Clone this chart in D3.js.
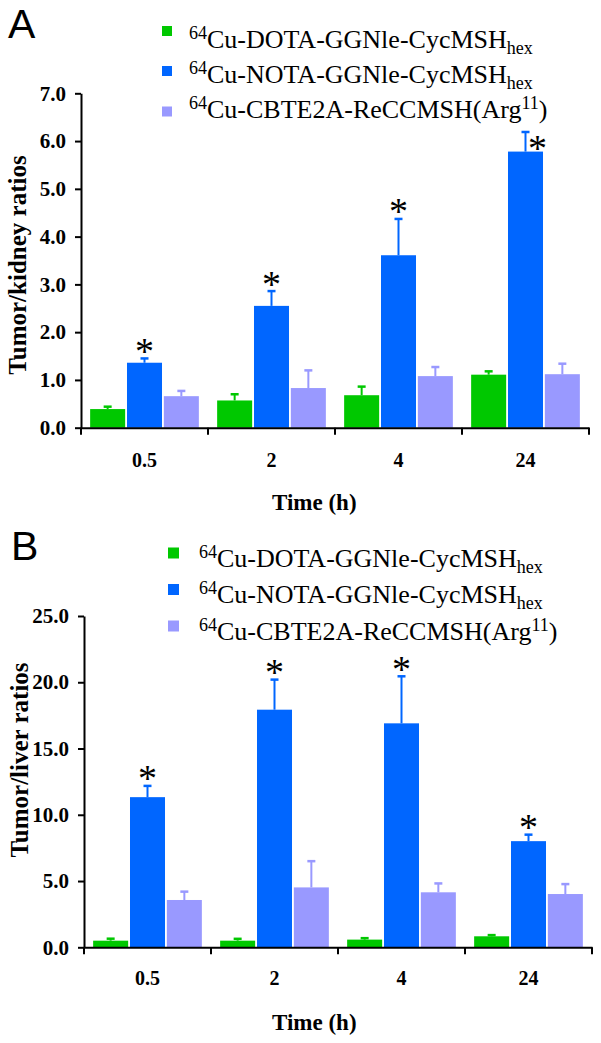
<!DOCTYPE html>
<html>
<head>
<meta charset="utf-8">
<script src="https://cdn.jsdelivr.net/npm/d3@7"></script>
<style>
  body { margin: 0; background: #fff; }
  svg { display: block; }
</style>
</head>
<body>
<div id="chart"></div>
<script>
// categories (time points)
var times = ["0.5", "2", "4", "24"]

// legend labels, split into [text, kind] pieces for super/subscripts
var legendLabels = [
    [["64", "sup"], ["Cu-DOTA-GGNle-CycMSH", "main"], ["hex", "sub"]],
    [["64", "sup"], ["Cu-NOTA-GGNle-CycMSH", "main"], ["hex", "sub"]],
    [["64", "sup"], ["Cu-CBTE2A-ReCCMSH(Arg", "main"], ["11", "sup"], [")", "main"]]
]
var colors = ["#00c800", "#0066ff", "#9999ff"]

// panel A: tumor/kidney ratios
var kidneyDOTA = [0.39, 0.57, 0.68, 1.11]
var kidneyDOTAsd = [0.05, 0.13, 0.18, 0.07]
var kidneyNOTA = [1.36, 2.55, 3.61, 5.78]
var kidneyNOTAsd = [0.09, 0.31, 0.76, 0.41]
var kidneyCBTE = [0.66, 0.83, 1.08, 1.12]
var kidneyCBTEsd = [0.11, 0.37, 0.19, 0.22]
var kidneyTicks = [0, 1, 2, 3, 4, 5, 6, 7]

// panel B: tumor/liver ratios
var liverDOTA = [0.50, 0.50, 0.58, 0.83]
var liverDOTAsd = [0.15, 0.14, 0.11, 0.09]
var liverNOTA = [11.33, 17.93, 16.90, 8.01]
var liverNOTAsd = [0.85, 2.27, 3.55, 0.49]
var liverCBTE = [3.57, 4.52, 4.15, 4.02]
var liverCBTEsd = [0.63, 1.98, 0.67, 0.75]
var liverTicks = [0, 5, 10, 15, 20, 25]

var svg = d3.select("#chart")
    .append("svg")
    .attr("width", 601)
    .attr("height", 1043)

var serif = "'Liberation Serif', 'Times New Roman', serif"

function drawPanel(cfg) {
    var g = svg.append("g")

    var x = d3.scaleBand()
        .domain(times)
        .range([cfg.left, cfg.right])

    var W = x.bandwidth()
    var inner = d3.scaleBand()
        .domain([0, 1, 2])
        .range([W * 0.072, W * 0.928])
        .paddingInner(0.05)

    var y = d3.scaleLinear()
        .domain([0, d3.max(cfg.ticks)])
        .range([cfg.bottom, cfg.top])

    var series = [
        { vals: cfg.values[0], sd: cfg.sds[0] },
        { vals: cfg.values[1], sd: cfg.sds[1] },
        { vals: cfg.values[2], sd: cfg.sds[2] }
    ]

    // bars
    series.forEach(function(s, si) {
        var sg = g.append("g")
        sg.selectAll("rect")
            .data(times)
            .enter()
            .append("rect")
            .attr("x", function(t) { return x(t) + inner(si) })
            .attr("y", function(t, i) { return y(s.vals[i]) })
            .attr("width", inner.bandwidth())
            .attr("height", function(t, i) { return y(0) - y(s.vals[i]) })
            .attr("fill", colors[si])

        // error bars (upper only)
        times.forEach(function(t, i) {
            var cx = x(t) + inner(si) + inner.bandwidth() / 2
            var yt = y(s.vals[i] + s.sd[i])
            sg.append("line")
                .attr("x1", cx).attr("x2", cx)
                .attr("y1", y(s.vals[i])).attr("y2", yt)
                .attr("stroke", colors[si])
                .attr("stroke-width", 2)
            sg.append("line")
                .attr("x1", cx - 4).attr("x2", cx + 4)
                .attr("y1", yt).attr("y2", yt)
                .attr("stroke", colors[si])
                .attr("stroke-width", 2.5)
        })
    })

    // significance stars over the NOTA bars
    times.forEach(function(t, i) {
        var cx = x(t) + inner(1) + inner.bandwidth() / 2
        var cy = y(cfg.values[1][i] + cfg.sds[1][i]) - 13.5
        if (i === cfg.sideStar) {
            cx = cx + 12
            cy = y(cfg.values[1][i]) - 10
        }
        g.append("text")
            .attr("x", cx)
            .attr("y", cy + 19)
            .attr("text-anchor", "middle")
            .style("font-family", serif)
            .style("font-size", "38px")
            .text("*")
    })

    // y axis
    var yAxis = g.append("g")
        .attr("transform", "translate(" + cfg.left + ",0)")
        .call(d3.axisLeft(y)
            .tickValues(cfg.ticks)
            .tickFormat(d3.format(".1f"))
            .tickSize(6)
            .tickSizeOuter(0)
            .tickPadding(9))
    yAxis.select(".domain").attr("stroke-width", 2)
    yAxis.selectAll(".tick line").attr("stroke-width", 2)
    yAxis.selectAll(".tick text")
        .style("font-family", serif)
        .style("font-weight", "bold")
        .style("font-size", "21px")
        .attr("fill", "#000")

    // x axis
    var xAxis = g.append("g")
        .attr("transform", "translate(0," + cfg.bottom + ")")
        .call(d3.axisBottom(x).tickSize(0).tickSizeOuter(0))
    xAxis.select(".domain").attr("stroke-width", 2)
    xAxis.selectAll(".tick text")
        .attr("y", cfg.labelBase - cfg.bottom)
        .attr("dy", 0)
        .style("font-family", serif)
        .style("font-weight", "bold")
        .style("font-size", "20px")
        .attr("fill", "#000")

    // group boundary ticks
    var edges = times.map(function(t) { return x(t) }).concat([cfg.right])
    g.selectAll(".edge")
        .data(edges)
        .enter()
        .append("line")
        .attr("x1", function(d) { return d })
        .attr("x2", function(d) { return d })
        .attr("y1", cfg.bottom)
        .attr("y2", cfg.bottom + 7)
        .attr("stroke", "#000")
        .attr("stroke-width", 2)

    // axis titles
    g.append("text")
        .attr("transform", "translate(" + cfg.yTitleX + "," + cfg.yTitleY + ") rotate(-90)")
        .attr("text-anchor", "middle")
        .style("font-family", serif)
        .style("font-weight", "bold")
        .style("font-size", "25px")
        .text(cfg.yTitle)

    g.append("text")
        .attr("x", 272)
        .attr("y", cfg.xTitleBase)
        .style("font-family", serif)
        .style("font-weight", "bold")
        .style("font-size", "23px")
        .text("Time (h)")

    // panel letter
    g.append("text")
        .attr("x", cfg.letterX)
        .attr("y", cfg.letterY)
        .style("font-family", "'Liberation Sans', Arial, sans-serif")
        .style("font-size", "41px")
        .text(cfg.letter)

    // legend
    legendLabels.forEach(function(parts, i) {
        g.append("rect")
            .attr("x", cfg.legX)
            .attr("y", cfg.legSq[i] - cfg.legSize / 2)
            .attr("width", cfg.legSize)
            .attr("height", cfg.legSize)
            .attr("fill", colors[i])

        var txt = g.append("text")
            .attr("x", cfg.legTextX)
            .attr("y", cfg.legBase[i])
            .style("font-family", serif)
            .style("font-size", "26px")
        var shift = 0
        parts.forEach(function(p) {
            var target = p[1] === "sup" ? -9 : (p[1] === "sub" ? 6 : 0)
            txt.append("tspan")
                .attr("dy", target - shift)
                .style("font-family", serif)
                .style("font-size", p[1] === "main" ? "26px" : "18px")
                .text(p[0])
            shift = target
        })
    })
}

drawPanel({
    left: 81, right: 589, top: 93.3, bottom: 427.7,
    ticks: kidneyTicks,
    values: [kidneyDOTA, kidneyNOTA, kidneyCBTE],
    sds: [kidneyDOTAsd, kidneyNOTAsd, kidneyCBTEsd],
    sideStar: 3,
    yTitle: "Tumor/kidney ratios", yTitleX: 26, yTitleY: 265,
    labelBase: 467, xTitleBase: 510,
    letter: "A", letterX: 8, letterY: 38,
    legX: 162, legSize: 10, legSq: [31, 71, 111.5],
    legTextX: 189, legBase: [47.5, 83, 118]
})

drawPanel({
    left: 84, right: 592, top: 616, bottom: 947.3,
    ticks: liverTicks,
    values: [liverDOTA, liverNOTA, liverCBTE],
    sds: [liverDOTAsd, liverNOTAsd, liverCBTEsd],
    sideStar: -1,
    yTitle: "Tumor/liver ratios", yTitleX: 28, yTitleY: 760,
    labelBase: 985, xTitleBase: 1030,
    letter: "B", letterX: 11, letterY: 560,
    legX: 168, legSize: 11, legSq: [553, 589.5, 626],
    legTextX: 199, legBase: [566.7, 603, 639.5]
})
</script>
</body>
</html>
